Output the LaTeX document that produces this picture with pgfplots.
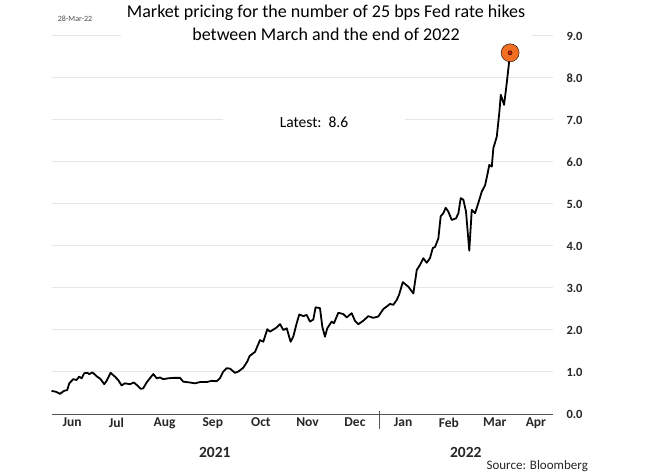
\documentclass[border=0pt]{standalone}
\usepackage{fontspec}
\setmainfont{Carlito}
\usepackage{pgfplots}
\pgfplotsset{compat=1.18}
\definecolor{gridgray}{HTML}{E6E6E6}
\definecolor{axisgray}{HTML}{555555}
\definecolor{dotorange}{HTML}{F26E22}
\definecolor{dotred}{HTML}{D81E05}

\begin{document}
\begin{tikzpicture}
\useasboundingbox (-52pt,-59pt) rectangle (608pt,414pt);
\begin{axis}[
  scale only axis,
  width=501pt, height=378pt,
  xmin=-210.5, xmax=112, ymin=0, ymax=9,
  clip=false,
  axis x line*=bottom,
  axis y line*=right,
  x axis line style={axisgray, line width=0.8pt, -},
  y axis line style={draw=none},
  xtick={-197.5,-169,-138,-107,-76,-46,-15.5,15.5,45,74.5,101},
  xticklabels={Jun,Jul,Aug,Sep,Oct,Nov,Dec,Jan,Feb,Mar,Apr},
  x tick style={draw=none},
  xticklabel style={font=\bfseries\fontsize{13.5}{15}\selectfont, text=black!85, yshift=0pt},
  extra x ticks={-184,-153,-122,-92,-61,-31,31,59,90},
  extra x tick labels={},
  extra x tick style={major tick length=3pt, tick align=inside,
    tick style={axisgray, line width=0.6pt}},
  ytick={0,1,...,9},
  y tick style={draw=none},
  yticklabel={\pgfmathprintnumber[fixed,fixed zerofill,precision=1]{\tick}},
  yticklabel style={font=\bfseries\fontsize{12.5}{14}\selectfont, text=black!85, xshift=10pt},
  /pgf/number format/assume math mode=true,
  ymajorgrids,
  grid style={gridgray, line width=1pt},
]
% labels that cover parts of the grid
\node[fill=white, align=center, inner sep=1pt, minimum width=411pt,
  font=\fontsize{18}{23}\selectfont] at (rel axis cs:0.547,1.035)
  {Market pricing for the number of 25 bps Fed rate hikes\\between March and the end of 2022};
\node[fill=white, minimum width=182pt, inner ysep=4pt,
  font=\fontsize{15.5}{17}\selectfont] at (rel axis cs:0.523,0.772) {Latest:\ \ 8.6};
\node[font=\fontsize{8}{9}\selectfont, text=black!70] at (rel axis cs:0.046,1.045) {28-Mar-22};

\addplot[black, line width=1.8pt, line join=round] coordinates {
(-210.8,0.55) (-208.0,0.53) (-205.4,0.48) (-202.8,0.55) (-200.7,0.57) (-199.4,0.73)
(-196.8,0.83) (-194.7,0.81) (-193.0,0.89) (-191.4,0.85) (-189.8,0.97) (-187.8,0.98)
(-186.5,0.95) (-184.4,0.99) (-181.8,0.90) (-179.2,0.83) (-176.9,0.71) (-175.3,0.79)
(-172.8,0.98) (-170.0,0.89) (-167.9,0.81) (-165.7,0.68) (-163.6,0.73) (-160.3,0.71)
(-157.8,0.75) (-155.6,0.68) (-153.4,0.60) (-151.8,0.61) (-149.6,0.75) (-147.5,0.85)
(-145.3,0.95) (-143.1,0.85) (-141.0,0.87) (-138.9,0.83) (-135.7,0.85) (-132.5,0.86)
(-128.1,0.86) (-126.0,0.77) (-121.7,0.75) (-118.5,0.73) (-115.3,0.76) (-110.9,0.76)
(-107.7,0.79) (-104.5,0.78) (-102.4,0.85) (-100.3,1.01) (-98.1,1.09) (-95.9,1.08)
(-92.7,0.98) (-90.6,1.01) (-87.4,1.10) (-84.8,1.25) (-83.3,1.38) (-79.8,1.48)
(-76.6,1.76) (-74.5,1.72) (-71.9,2.02) (-70.2,1.96) (-65.9,2.06) (-63.7,2.14)
(-61.6,2.00) (-59.4,2.04) (-56.9,1.72) (-55.2,1.84) (-53.0,2.16) (-51.3,2.37)
(-48.7,2.33) (-46.6,2.36) (-44.4,2.20) (-42.3,2.25) (-40.8,2.54) (-38.0,2.52)
(-36.5,2.08) (-34.8,1.84) (-33.3,2.04) (-30.5,2.20) (-29.0,2.16) (-26.2,2.41)
(-23.0,2.38) (-20.8,2.30) (-17.6,2.40) (-15.5,2.22) (-13.3,2.14) (-10.1,2.22)
(-6.9,2.33) (-3.7,2.29) (-0.5,2.32) (2.8,2.50) (7.1,2.62) (9.2,2.60)
(11.5,2.72) (13.0,2.85) (15.3,3.14) (18.9,3.03) (22.1,2.87) (24.3,3.43)
(26.4,3.55) (28.5,3.71) (30.7,3.60) (32.8,3.71) (34.6,3.95) (36.1,3.98)
(38.2,4.18) (39.7,4.71) (41.4,4.78) (42.9,4.91) (44.6,4.82) (46.8,4.62)
(49.6,4.66) (51.1,4.78) (52.6,5.14) (54.3,5.10) (56.0,4.82) (58.1,3.89)
(59.7,4.86) (61.8,4.78) (63.9,5.02) (66.1,5.29) (68.3,5.45) (69.7,5.69)
(71.0,5.93) (72.6,5.89) (73.6,6.33) (75.8,6.60) (77.5,7.20) (78.4,7.60)
(80.5,7.36) (82.2,7.87) (84.4,8.60)
};
% latest value marker
\addplot[only marks, mark=*, mark size=9pt, mark options={fill=dotorange, draw=none}]
  coordinates {(84.4,8.60)};
\addplot[only marks, mark=*, mark size=2pt, mark options={fill=dotred, draw=none}]
  coordinates {(84.4,8.60)};

% year divider and year labels
\draw[axisgray, line width=0.8pt] ([yshift=3pt]axis cs:0,0) -- ([yshift=-15pt]axis cs:0,0);
\node[font=\bfseries\fontsize{15.5}{17}\selectfont, text=black!85] at (rel axis cs:0.325,-0.103) {2021};
\node[font=\bfseries\fontsize{15.5}{17}\selectfont, text=black!85] at (rel axis cs:0.826,-0.103) {2022};
\node[anchor=east, inner sep=0pt, font=\fontsize{13}{15}\selectfont, text=black!85]
  at (rel axis cs:1.07,-0.1376) {Source: Bloomberg};
\end{axis}
\end{tikzpicture}
\end{document}
